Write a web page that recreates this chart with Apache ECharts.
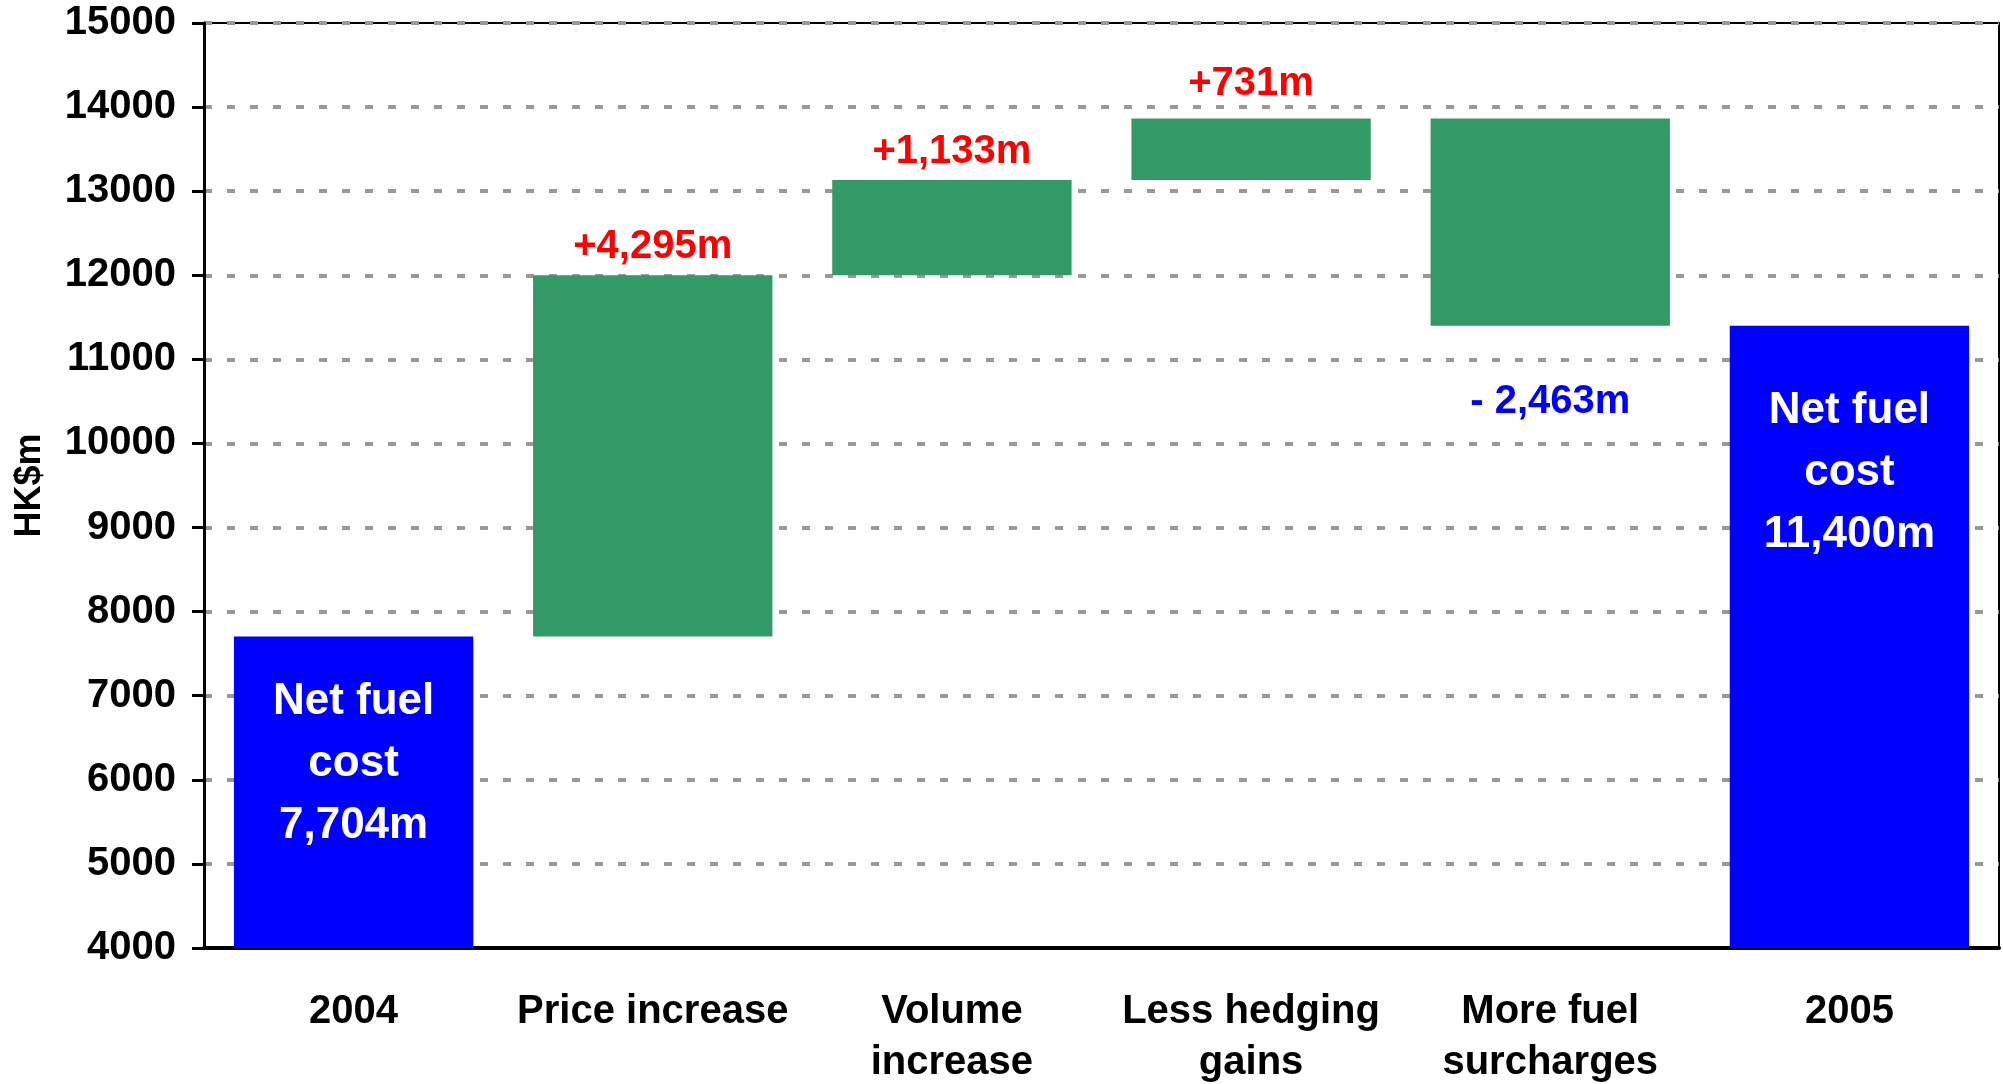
<!DOCTYPE html>
<html>
<head>
<meta charset="utf-8">
<script src="https://cdn.jsdelivr.net/npm/echarts@6/dist/echarts.min.js"></script>
<style>
    html, body { margin: 0; padding: 0; background: #fff; }
    #chart { width: 2003px; height: 1084px; }
</style>
</head>
<body>
<div id="chart"></div>
<script>
var categories = ['2004', 'Price increase', 'Volume\nincrease', 'Less hedging\ngains', 'More fuel\nsurcharges', '2005'];
// first and last are totals, the rest are changes
var changes = [7704, 4295, 1133, 731, -2463, 11400];
var barLabels = ['Net fuel\ncost\n7,704m', '+4,295m', '+1,133m', '+731m', '- 2,463m', 'Net fuel\ncost\n11,400m'];
var yTicks = [4000, 15000, 1000];

var placeholder = [];
var visible = [];
var running = 0;
changes.forEach(function(v, i){
    if(i === 0 || i === changes.length - 1) {
        placeholder.push(0);
        visible.push({
            value: v,
            itemStyle: {color: '#0000ff'},
            label: {
                position: 'insideTop',
                distance: i === 0 ? 34 : 54,
                color: '#fff',
                fontSize: 44,
                lineHeight: 62
            }
        });
        running = v;
    }else {
        var next = running + v;
        placeholder.push(Math.min(running, next));
        visible.push({
            value: Math.abs(v),
            itemStyle: {color: '#339966'},
            label: v >= 0 ? {
                position: 'top',
                distance: v < 1000 ? 15 : 8,
                color: '#ff0000',
                fontSize: 40
            } : {
                position: 'bottom',
                distance: 56,
                color: '#0000ff',
                fontSize: 40
            }
        });
        running = next;
    }
});

var myChart = echarts.init(document.getElementById('chart'));
myChart.setOption({
    animation: false,
    grid: {
        left: 204, right: 4, top: 23, bottom: 136,
        outerBoundsMode: 'none',
        show: true,
        borderColor: '#000',
        borderWidth: 2
    },
    xAxis: {
        type: 'category',
        data: categories,
        axisTick: {show: false},
        axisLine: {lineStyle: {color: '#000', width: 4}},
        axisLabel: {
            color: '#000',
            fontFamily: 'Liberation Sans, Arial, sans-serif',
            fontWeight: 'bold',
            fontSize: 40,
            lineHeight: 51,
            margin: 38,
            interval: 0
        }
    },
    yAxis: {
        type: 'value',
        min: yTicks[0],
        max: yTicks[1],
        interval: yTicks[2],
        name: 'HK$m',
        nameLocation: 'middle',
        nameRotate: 90,
        nameGap: 156,
        nameTextStyle: {
            color: '#000',
            fontFamily: 'Liberation Sans, Arial, sans-serif',
            fontWeight: 'bold',
            fontSize: 36
        },
        axisLine: {show: true, lineStyle: {color: '#000', width: 3}},
        axisTick: {show: true, length: 12, lineStyle: {color: '#000', width: 3}},
        axisLabel: {
            color: '#000',
            fontFamily: 'Liberation Sans, Arial, sans-serif',
            fontWeight: 'bold',
            fontSize: 40,
            margin: 28,
            formatter: function(v){
                return String(v);
            }
        },
        splitLine: {
            lineStyle: {color: '#999', width: 4, type: [8, 15]}
        }
    },
    series: [{
        type: 'bar',
        stack: 'fall',
        data: placeholder,
        itemStyle: {color: 'transparent'},
        barCategoryGap: '20%',
        silent: true
    }, {
        type: 'bar',
        stack: 'fall',
        data: visible,
        barCategoryGap: '20%',
        label: {
            show: true,
            fontFamily: 'Liberation Sans, Arial, sans-serif',
            fontWeight: 'bold',
            formatter: function(p){
                return barLabels[p.dataIndex];
            }
        }
    }]
});
</script>
</body>
</html>
